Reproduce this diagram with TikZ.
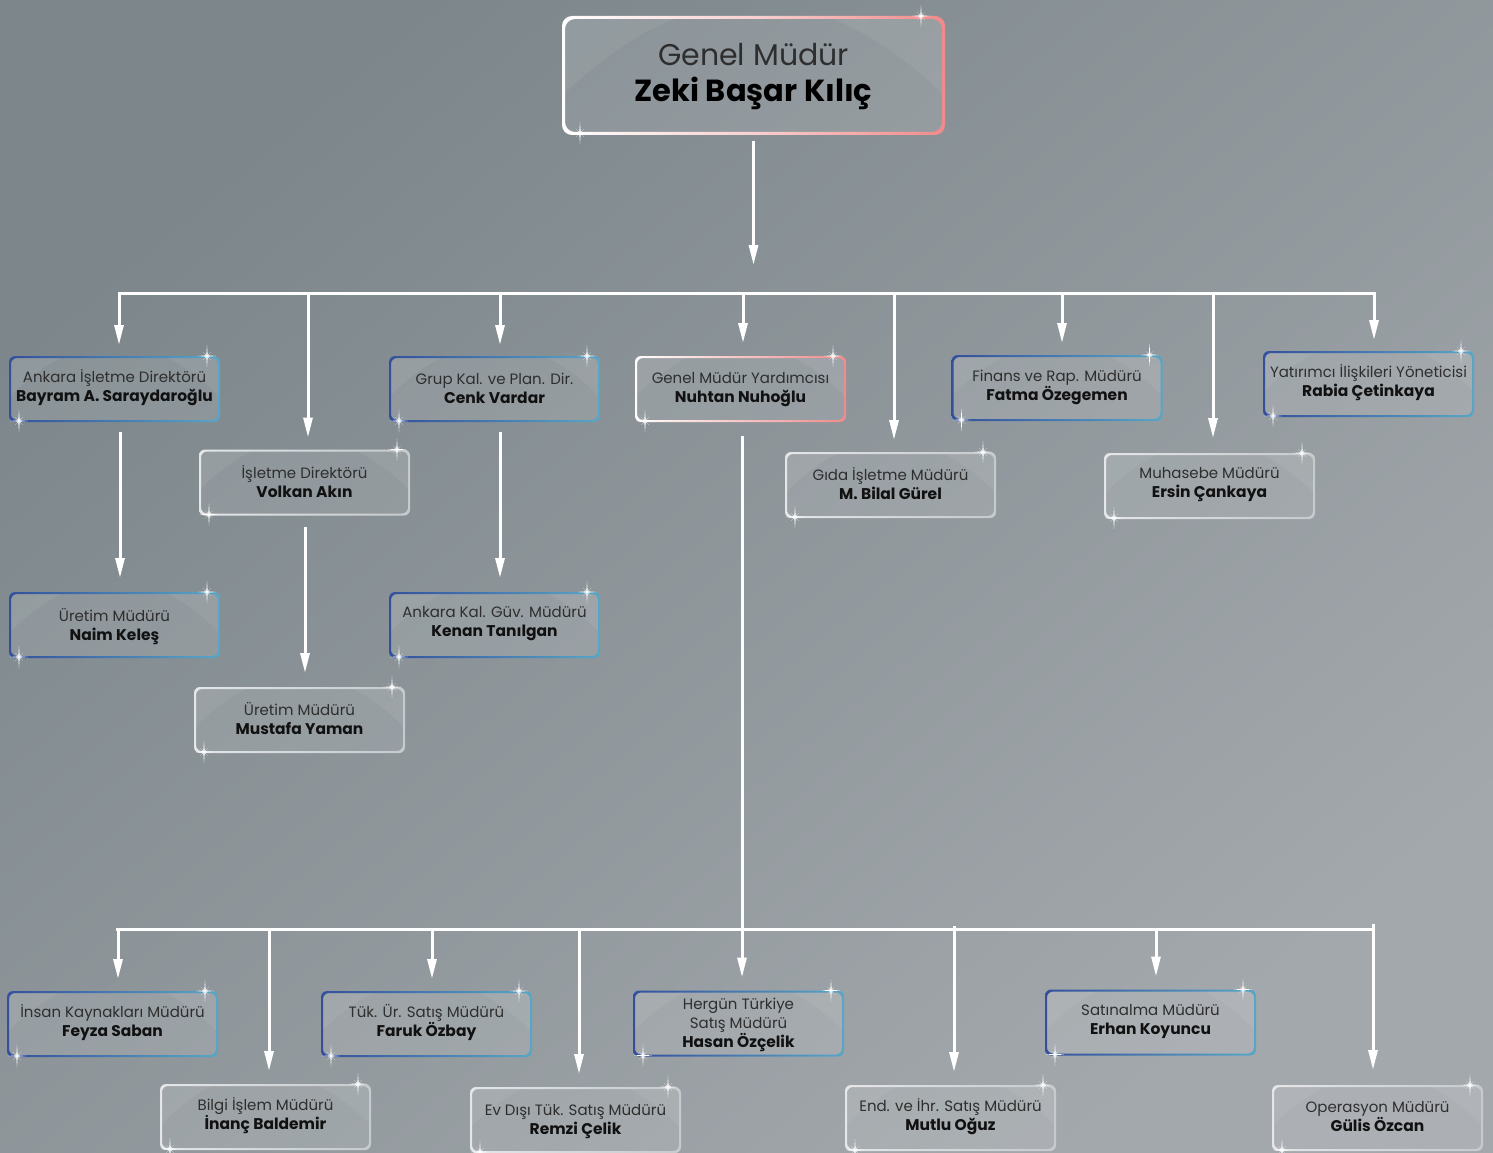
\documentclass[tikz,border=0pt]{standalone}
\usepackage{fontspec}
\setmainfont{Poppins}
\usetikzlibrary{arrows.meta,calc}
\definecolor{bgA}{HTML}{7C868B}
\definecolor{bgB}{HTML}{A3A8AC}
\definecolor{blueL}{HTML}{34509C}
\definecolor{blueR}{HTML}{58A6C6}
\definecolor{pinkL}{HTML}{FFFFFF}
\definecolor{pinkR}{HTML}{F08A8A}
\definecolor{lightL}{HTML}{E4E6E8}
\definecolor{lightR}{HTML}{C6CACD}
\definecolor{ttl}{HTML}{2E2E2E}
\definecolor{nmc}{HTML}{111111}

\newcommand\cardborder[4]{% #1 node, #2 kind, #3 radius, #4 width
  \shade[even odd rule, left color=#2L, right color=#2R, rounded corners=#3]
    (#1.north west) rectangle (#1.south east)
    ([shift={(#4,#4)}]#1.north west) rectangle ([shift={(-#4,-#4)}]#1.south east);
}
\newcommand\card[7][1]{% [#1 text shift] #2 name, #3 x, #4 y, #5 kind, #6 title, #7 person
  \node[box] (#2) at (#3,#4) {};
  \begin{scope}
    \clip[rounded corners=6] (#2.north west) rectangle (#2.south east);
    \fill[white,opacity=.10] (#2.north west) rectangle (#2.south east);
    \fill[white,opacity=.06] (#2.north west) -- (#2.north east)
      -- ([yshift=-41]#2.north east)
      .. controls ([shift={(-70,-29)}]#2.north east) and ([shift={(70,-29)}]#2.north west)
      .. ([yshift=-41]#2.north west) -- cycle;
  \end{scope}
  \cardborder{#2}{#5}{6}{2}
  \pic at ([xshift=-13]#2.north east) {spark};
  \pic at ([shift={(10,-1)}]#2.south west) {spark};
  \node[lbl] at ([yshift=#1]#2.center) {#6\\\fontsize{15.5}{19}\selectfont\color{nmc}\bfseries #7};
}

\begin{document}
\begin{tikzpicture}[x=1pt,y=-1pt,
  line/.style={white, line width=3pt},
  bus/.style={line, line cap=rect},
  arr/.style={line, -{Triangle[length=20pt,width=9pt]}},
  box/.style={minimum width=211pt, minimum height=66pt, inner sep=0pt, outer sep=0pt},
  lbl/.style={align=center, inner sep=0pt, text=ttl, font=\fontsize{15}{19}\selectfont},
  spark/.pic={
    \fill[white,opacity=.3] (0,0) circle (2.5);
    \fill[white] (0,-11) -- (.7,-.7) -- (9,0) -- (.7,.7) -- (0,11) -- (-.7,.7) -- (-9,0) -- (-.7,-.7) -- cycle;
    \fill[white,opacity=.6] (-4,-4) -- (0,-.5) -- (4,-4) -- (.5,0) -- (4,4) -- (0,.5) -- (-4,4) -- (-.5,0) -- cycle;
  }
]
\useasboundingbox (0,0) rectangle (1493,1153);
\shade[top color=bgA, bottom color=bgB, shading angle=40] (0,0) rectangle (1493,1153);

% ---------- top box
\node[minimum width=383pt, minimum height=119pt, inner sep=0pt, outer sep=0pt] (gm) at (753.5,75.5) {};
\begin{scope}
  \clip[rounded corners=10] (gm.north west) rectangle (gm.south east);
  \fill[white,opacity=.10] (gm.north west) rectangle (gm.south east);
  \fill[white,opacity=.06] (gm.north west) -- (gm.north east)
    -- ([yshift=-80]gm.north east)
    .. controls ([shift={(-128,-44)}]gm.north east) and ([shift={(128,-44)}]gm.north west)
    .. ([yshift=-80]gm.north west) -- cycle;
\end{scope}
\shade[even odd rule, left color=white, right color=pinkR, middle color=pinkL!60!pinkR, rounded corners=10]
  (gm.north west) rectangle (gm.south east)
  ([shift={(3,3)}]gm.north west) rectangle ([shift={(-3,-3)}]gm.south east);
\pic at ([xshift=-24]gm.north east) {spark};
\pic at ([shift={(18,-2)}]gm.south west) {spark};
\node[align=center, inner sep=0pt, text=ttl, font=\fontsize{30}{36}\selectfont] at ([yshift=-1.5]gm.center)
  {Genel Müdür\\\fontsize{30.5}{36}\selectfont\color{black}\bfseries Zeki Başar Kılıç};

% ---------- cards
\card{ank}{114.5}{389}{blue}{Ankara İşletme Direktörü}{Bayram A. Saraydaroğlu}
\card{isl}{304.5}{482.5}{light}{İşletme Direktörü}{Volkan Akın}
\card{grup}{494.5}{389}{blue}{Grup Kal. ve Plan. Dir.}{Cenk Vardar}
\card[-1]{gmy}{740.5}{389}{pink}{Genel Müdür Yardımcısı}{Nuhtan Nuhoğlu}
\card{gida}{890.5}{485}{light}{Gıda İşletme Müdürü}{M. Bilal Gürel}
\card{fin}{1057}{388}{blue}{Finans ve Rap. Müdürü}{Fatma Özegemen}
\card{muh}{1209.5}{486}{light}{Muhasebe Müdürü}{Ersin Çankaya}
\card{yat}{1368.5}{384}{blue}{Yatırımcı İlişkileri Yöneticisi}{Rabia Çetinkaya}
\card[-1.5]{ur1}{114.5}{625}{blue}{Üretim Müdürü}{Naim Keleş}
\card{akg}{494.5}{625}{blue}{Ankara Kal. Güv. Müdürü}{Kenan Tanılgan}
\card{ur2}{299.5}{720}{light}{Üretim Müdürü}{Mustafa Yaman}
\card{ik}{112.5}{1024}{blue}{İnsan Kaynakları Müdürü}{Feyza Saban}
\card{tuk}{426.5}{1024}{blue}{Tük. Ür. Satış Müdürü}{Faruk Özbay}
\card[-1]{her}{738.5}{1023.5}{blue}{Hergün Türkiye\\Satış Müdürü}{Hasan Özçelik}
\card{sat}{1150.5}{1022.5}{blue}{Satınalma Müdürü}{Erhan Koyuncu}
\card{bil}{265.5}{1117}{light}{Bilgi İşlem Müdürü}{İnanç Baldemir}
\card[-1.5]{evd}{575.5}{1120}{light}{Ev Dışı Tük. Satış Müdürü}{Remzi Çelik}
\card{eih}{950.5}{1118}{light}{End. ve İhr. Satış Müdürü}{Mutlu Oğuz}
\card[1.5]{ops}{1377.5}{1118}{light}{Operasyon Müdürü}{Gülis Özcan}

% ---------- top bus
\coordinate (b0) at (753.5,293);
\draw[arr, shorten <=6pt, shorten >=28pt] (gm.south) -- (b0);
\coordinate (tl) at (119,293);
\coordinate (tr) at (1374,293);
\draw[bus] (tl) -- (tr);
\coordinate (d1) at (119,293);
\coordinate (d2) at (308,293);
\coordinate (d3) at (500,293);
\coordinate (d4) at (743,293);
\coordinate (d5) at (894,293);
\coordinate (d6) at (1062,293);
\coordinate (d7) at (1213,293);
\coordinate (d8) at (1374,293);
\draw[arr, shorten >=11pt] (d1) -- (d1 |- ank.north);
\draw[arr, shorten >=12pt] (d2) -- (d2 |- isl.north);
\draw[arr, shorten >=11pt] (d3) -- (d3 |- grup.north);
\draw[arr, shorten >=13pt] (d4) -- (d4 |- gmy.north);
\draw[arr, shorten >=12pt] (d5) -- (d5 |- gida.north);
\draw[arr, shorten >=12pt] (d6) -- (d6 |- fin.north);
\draw[arr, shorten >=15pt] (d7) -- (d7 |- muh.north);
\draw[arr, shorten >=11pt] (d8) -- (d8 |- yat.north);

% ---------- second level
\draw[arr, shorten <=10pt, shorten >=14pt] ([xshift=5.5]ank.south) -- ([xshift=5.5]ank.south |- ur1.north);
\draw[arr, shorten <=11pt, shorten >=14pt] ([xshift=.5]isl.south) -- ([xshift=.5]isl.south |- ur2.north);
\draw[arr, shorten <=10pt, shorten >=14pt] ([xshift=5.5]grup.south) -- ([xshift=5.5]grup.south |- akg.north);
\draw[arr, shorten <=14pt, shorten >=13pt] ([xshift=1.5]gmy.south) -- ([xshift=1.5]gmy.south |- her.north);

% ---------- bottom bus
\coordinate (bl) at (117,929);
\coordinate (br) at (1373,929);
\draw[bus] (bl) -- (br);
\coordinate (e1) at (118,929);
\coordinate (e2) at (269,929);
\coordinate (e3) at (432,929);
\coordinate (e4) at (579,929);
\coordinate (e6) at (954,926);
\coordinate (e7) at (1156,929);
\coordinate (e8) at (1373,924);
\draw[arr, shorten >=12pt] (e1) -- (e1 |- ik.north);
\draw[arr, shorten >=13pt] (e2) -- (e2 |- bil.north);
\draw[arr, shorten >=12pt] (e3) -- (e3 |- tuk.north);
\draw[arr, shorten >=13pt] (e4) -- (e4 |- evd.north);
\draw[arr, shorten >=13pt] (e6) -- (e6 |- eih.north);
\draw[arr, shorten >=13pt] (e7) -- (e7 |- sat.north);
\draw[arr, shorten >=15pt] (e8) -- (e8 |- ops.north);
\end{tikzpicture}
\end{document}
